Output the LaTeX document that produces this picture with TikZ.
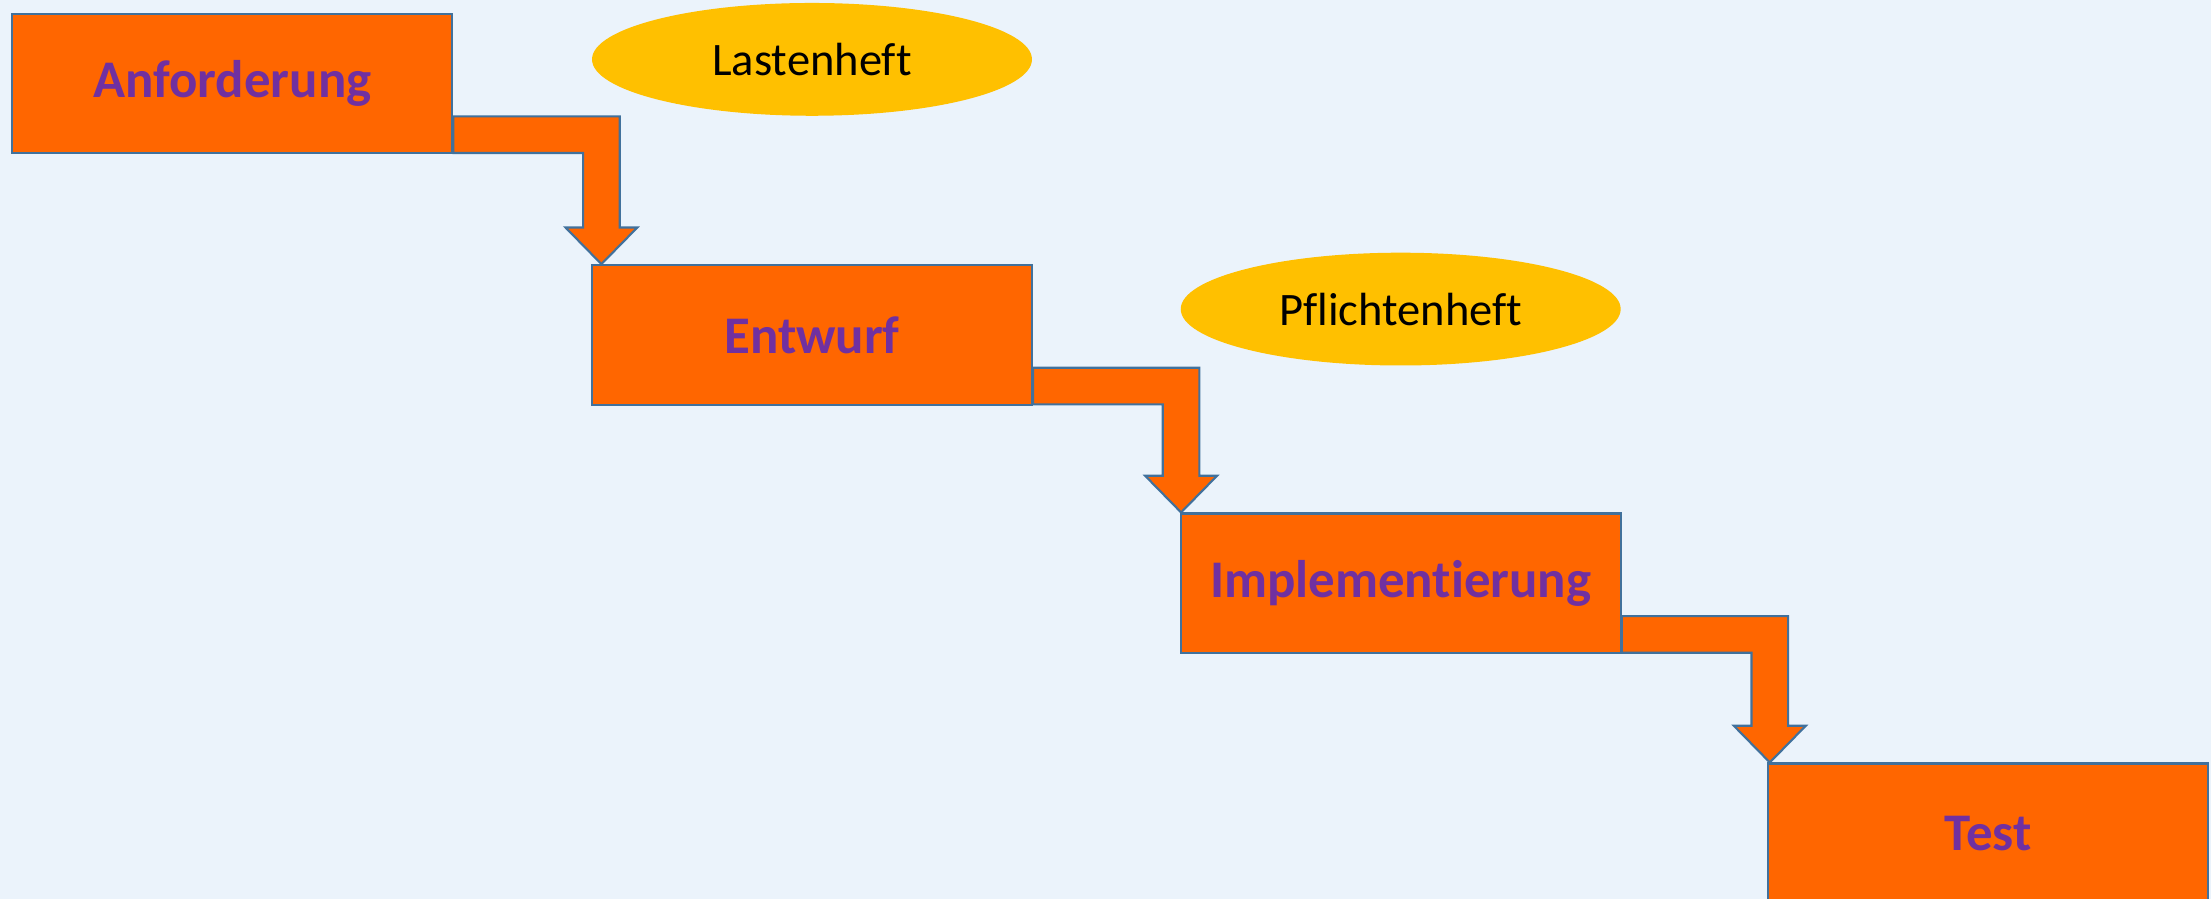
\documentclass[tikz,border=0pt]{standalone}
\usepackage{fontspec}
\setmainfont{Carlito}[Ligatures=NoCommon]
\usepackage{tikz}
\usetikzlibrary{shapes,positioning,calc}

\definecolor{bgblue}{HTML}{EBF3FB}
\definecolor{edgeblue}{HTML}{41719C}
\definecolor{phaseorange}{HTML}{FF6600}
\definecolor{textpurple}{HTML}{7030A0}
\definecolor{docyellow}{HTML}{FFC000}

\begin{document}
\begin{tikzpicture}[
    x=1pt, y=-1pt,
    node distance=76pt and 103.5pt,
    phase/.style={rectangle, draw=edgeblue, line width=1.5pt, fill=phaseorange, text=textpurple, minimum width=312pt, minimum height=99pt, inner sep=0pt, font=\fontsize{37.5}{45}\selectfont\bfseries},
    doc/.style={ellipse, fill=docyellow, minimum width=312pt, minimum height=80pt, inner sep=0pt, font=\fontsize{33}{40}\selectfont},
    flow/.style={draw=edgeblue, line width=1.5pt, fill=phaseorange, line join=miter}
]

% Background
\useasboundingbox (0,0) rectangle (1568,637.5);
\clip (0,0) rectangle (1568,637.5);
\fill[bgblue] (0,0) rectangle (1568,637.5);

% Phases - staircase
\node[phase, anchor=north west] (req) at (8,9) {Anforderung};
\node[phase, below right=77.8pt and 97.6pt of req] (design) {Entwurf};
\node[phase, below right=75.6pt and 104pt of design] (impl) {Implementierung};
\node[phase, below right=76.8pt and 103pt of impl] (test) {Test};

% Documents
\node[doc, above=105pt of design] (lh) {Lastenheft};
\node[doc, above=104pt of impl] (pf) {Pflichtenheft};

% Elbow arrows between phases
\foreach \a/\b in {req/design, design/impl, impl/test}
  \draw[flow] let \p1=(\a.south east), \p2=(\b.north west), \n1={\x1+105pt} in
    (\x1,{\y1+1pt}) -- (\x1,{\y1+27pt}) -- ({\n1+13pt},{\y1+27pt})
    -- ({\n1+13pt},{\y2+26pt}) -- ({\n1+25.5pt},{\y2+26pt}) -- (\n1,\y2)
    -- ({\n1-25.5pt},{\y2+26pt}) -- ({\n1-13pt},{\y2+26pt})
    -- ({\n1-13pt},{\y1+1pt}) -- cycle;

\end{tikzpicture}
\end{document}
